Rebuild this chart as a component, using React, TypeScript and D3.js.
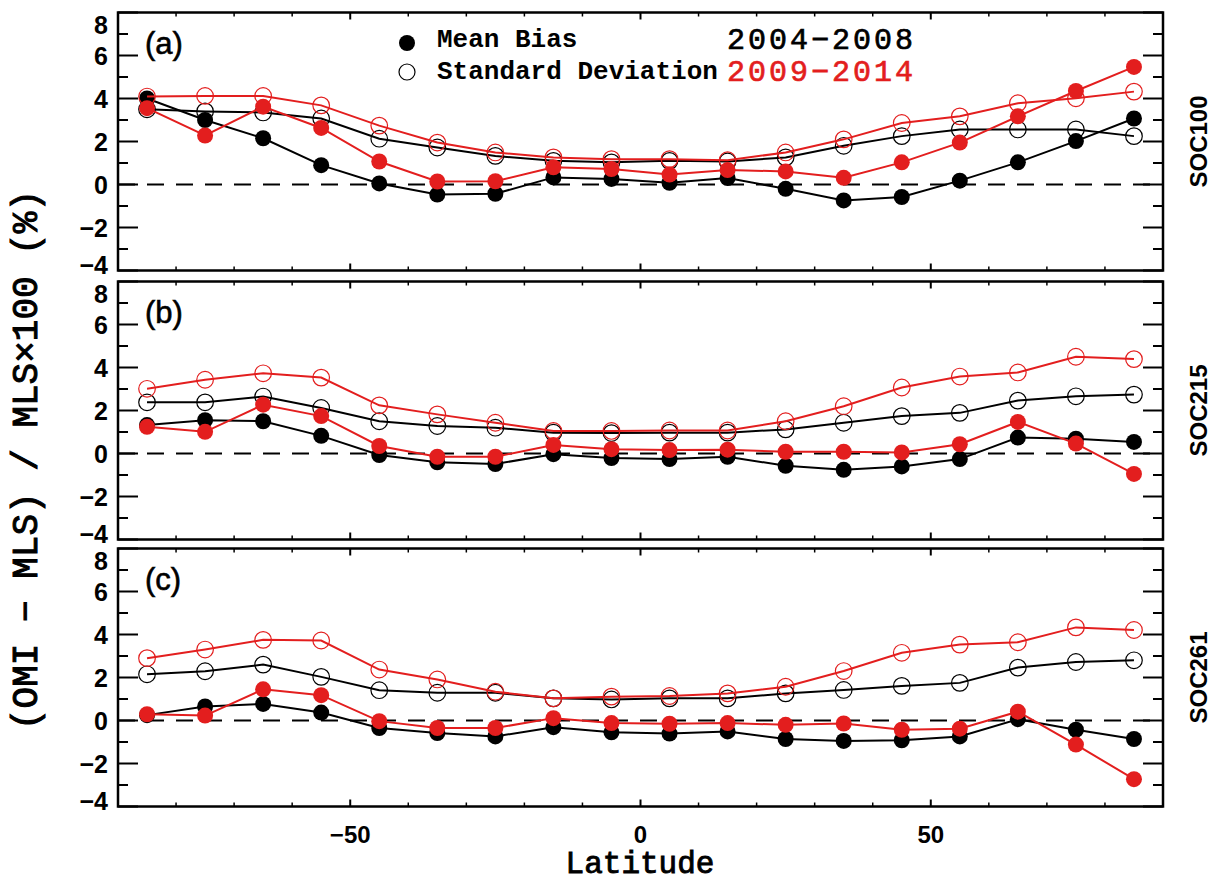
import React from "react";
import * as d3 from "d3";

const latitudes = [-85, -75, -65, -55, -45, -35, -25, -15, -5, 5, 15, 25, 35, 45, 55, 65, 75, 85];

// Panel (a) SOC100
const aMean0408 = [4.0, 3.0, 2.15, 0.9, 0.05, -0.47, -0.43, 0.33, 0.26, 0.08, 0.3, -0.2, -0.74, -0.58, 0.18, 1.03, 2.02, 3.07];
const aSd0408 = [3.5, 3.4, 3.35, 3.07, 2.13, 1.72, 1.33, 1.1, 1.03, 1.1, 1.07, 1.26, 1.8, 2.25, 2.56, 2.56, 2.56, 2.25];
const aMean0914 = [3.55, 2.28, 3.62, 2.63, 1.07, 0.14, 0.15, 0.8, 0.72, 0.46, 0.67, 0.61, 0.31, 1.03, 1.95, 3.17, 4.35, 5.47];
const aSd0914 = [4.09, 4.12, 4.12, 3.68, 2.74, 1.95, 1.49, 1.26, 1.18, 1.18, 1.13, 1.49, 2.1, 2.86, 3.17, 3.78, 4.01, 4.32];

// Panel (b) SOC215
const bMean0408 = [1.32, 1.55, 1.5, 0.82, -0.07, -0.41, -0.49, -0.03, -0.21, -0.26, -0.15, -0.57, -0.76, -0.6, -0.26, 0.74, 0.69, 0.54];
const bSd0408 = [2.38, 2.38, 2.65, 2.12, 1.5, 1.28, 1.2, 0.97, 0.95, 0.97, 0.97, 1.12, 1.43, 1.74, 1.89, 2.46, 2.66, 2.74];
const bMean0914 = [1.24, 1.01, 2.27, 1.74, 0.35, -0.15, -0.15, 0.4, 0.2, 0.16, 0.18, 0.08, 0.08, 0.05, 0.43, 1.47, 0.46, -0.95];
const bSd0914 = [3.01, 3.43, 3.73, 3.53, 2.24, 1.82, 1.43, 1.05, 1.05, 1.07, 1.07, 1.5, 2.2, 3.07, 3.58, 3.77, 4.5, 4.39];

// Panel (c) SOC261
const cMean0408 = [0.25, 0.65, 0.77, 0.37, -0.35, -0.58, -0.74, -0.31, -0.55, -0.61, -0.51, -0.86, -0.95, -0.92, -0.74, 0.06, -0.43, -0.86];
const cSd0408 = [2.15, 2.29, 2.6, 2.03, 1.41, 1.29, 1.29, 1.03, 0.98, 1.03, 1.03, 1.26, 1.42, 1.61, 1.75, 2.46, 2.72, 2.8];
const cMean0914 = [0.29, 0.23, 1.45, 1.18, -0.03, -0.35, -0.35, 0.11, -0.12, -0.15, -0.12, -0.2, -0.14, -0.43, -0.38, 0.41, -1.12, -2.73];
const cSd0914 = [2.9, 3.3, 3.75, 3.72, 2.37, 1.91, 1.34, 1.03, 1.11, 1.14, 1.26, 1.57, 2.3, 3.15, 3.53, 3.64, 4.33, 4.21];

const panelLabels = ["(a)", "(b)", "(c)"];
const panelNames = ["SOC100", "SOC215", "SOC261"];
const yMajorTicks = [-4, -2, 0, 2, 4, 6, 8];
const yMinorTicks = [-3, -1, 1, 3, 5, 7];
const xMajorTicks = [-50, 0, 50];
const xMinorTicks = [-80, -70, -60, -40, -30, -20, -10, 10, 20, 30, 40, 60, 70, 80];
const periods = ["2004\u22122008", "2009\u22122014"];
const legendItems = ["Mean Bias", "Standard Deviation"];

const panels = [
  { mean0408: aMean0408, sd0408: aSd0408, mean0914: aMean0914, sd0914: aSd0914 },
  { mean0408: bMean0408, sd0408: bSd0408, mean0914: bMean0914, sd0914: bSd0914 },
  { mean0408: cMean0408, sd0408: cSd0408, mean0914: cMean0914, sd0914: cSd0914 },
];

const W = 1221;
const H = 882;
const left = 118;
const right = 1163;
const panelTops = [12.5, 281.5, 548.5];
const panelH = 258;
const RED = "#e31e1e";
const MONO = "'Liberation Mono', 'DejaVu Sans Mono', monospace";
const SANS = "'Liberation Sans', Arial, sans-serif";

const x = d3.scaleLinear().domain([-90, 90]).range([left, right]);

function Panel({ idx }: { idx: number }) {
  const top = panelTops[idx];
  const bottom = top + panelH;
  const y = d3.scaleLinear().domain([-4, 8]).range([bottom, top]);
  const p = panels[idx];
  const line = (vals: number[]) =>
    d3.line<number>().x((_, i) => x(latitudes[i])).y((v) => y(v))(vals) || "";

  const series = [
    { vals: p.sd0408, color: "#000", filled: false },
    { vals: p.mean0408, color: "#000", filled: true },
    { vals: p.sd0914, color: RED, filled: false },
    { vals: p.mean0914, color: RED, filled: true },
  ];

  return (
    <g>
      <line x1={left} x2={right} y1={y(0)} y2={y(0)} stroke="#000" strokeWidth={2} strokeDasharray="17 12" />
      {series.map((s, si) => (
        <g key={si}>
          <path d={line(s.vals)} fill="none" stroke={s.color} strokeWidth={2} />
          {s.vals.map((v, i) =>
            s.filled ? (
              <circle key={i} cx={x(latitudes[i])} cy={y(v)} r={8} fill={s.color} />
            ) : (
              <circle key={i} cx={x(latitudes[i])} cy={y(v)} r={8.3} fill="none" stroke={s.color} strokeWidth={1.2} />
            )
          )}
        </g>
      ))}
      <rect x={left} y={top} width={right - left} height={panelH} fill="none" stroke="#000" strokeWidth={2.5} />
      {yMajorTicks.map((t) => (
        <g key={"ym" + t}>
          <line x1={left} x2={left + 20} y1={y(t)} y2={y(t)} stroke="#000" strokeWidth={2} />
          <line x1={right} x2={right - 20} y1={y(t)} y2={y(t)} stroke="#000" strokeWidth={2} />
          <text
            x={108}
            y={Math.max(top + 12, Math.min(bottom - 6, y(t)))}
            dy="0.36em"
            textAnchor="end"
            fontFamily={SANS}
            fontWeight="bold"
            fontSize={25}
          >
            {t < 0 ? "\u2212" + Math.abs(t) : String(t)}
          </text>
        </g>
      ))}
      {yMinorTicks.map((t) => (
        <g key={"yn" + t}>
          <line x1={left} x2={left + 10} y1={y(t)} y2={y(t)} stroke="#000" strokeWidth={2} />
          <line x1={right} x2={right - 10} y1={y(t)} y2={y(t)} stroke="#000" strokeWidth={2} />
        </g>
      ))}
      {xMajorTicks.map((t) => (
        <g key={"xm" + t}>
          <line x1={x(t)} x2={x(t)} y1={top} y2={top + 7} stroke="#000" strokeWidth={2} />
          <line x1={x(t)} x2={x(t)} y1={bottom} y2={bottom - 7} stroke="#000" strokeWidth={2} />
        </g>
      ))}
      {xMinorTicks.map((t) => (
        <g key={"xn" + t}>
          <line x1={x(t)} x2={x(t)} y1={top} y2={top + 4} stroke="#000" strokeWidth={1.5} />
          <line x1={x(t)} x2={x(t)} y1={bottom} y2={bottom - 4} stroke="#000" strokeWidth={1.5} />
        </g>
      ))}
      {idx === 2 &&
        xMajorTicks.map((t) => (
          <text key={"xl" + t} x={x(t)} y={843} textAnchor="middle" fontFamily={SANS} fontWeight="bold" fontSize={24}>
            {t < 0 ? "\u2212" + Math.abs(t) : String(t)}
          </text>
        ))}
      <text x={145} y={top + 41} fontFamily={SANS} fontSize={31} stroke="#000" strokeWidth={0.6}>
        {panelLabels[idx]}
      </text>
      <text
        transform={`translate(1207, ${(top + bottom) / 2}) rotate(-90)`}
        textAnchor="middle"
        fontFamily={SANS}
        fontWeight="bold"
        fontSize={24}
      >
        {panelNames[idx]}
      </text>
    </g>
  );
}

export default function App() {
  return (
    <svg
      width={W}
      height={H}
      viewBox={`0 0 ${W} ${H}`}
      style={{ position: "absolute", left: 0, top: 0, background: "#fff" }}
    >
      <rect x={0} y={0} width={W} height={H} fill="#fff" />
      {[0, 1, 2].map((i) => (
        <Panel key={i} idx={i} />
      ))}
      {/* legend */}
      <circle cx={407} cy={43} r={8} fill="#000" />
      <circle cx={407} cy={72} r={8} fill="none" stroke="#000" strokeWidth={1.2} />
      <text x={437} y={47} fontFamily={MONO} fontWeight="bold" fontSize={26}>
        {legendItems[0]}
      </text>
      <text x={437} y={79} fontFamily={MONO} fontWeight="bold" fontSize={26}>
        {legendItems[1]}
      </text>
      <text x={727} y={49} fontFamily={MONO} fontSize={30} letterSpacing={3} fill="#000" stroke="#000" strokeWidth={0.7}>
        {periods[0]}
      </text>
      <text x={727} y={81} fontFamily={MONO} fontSize={30} letterSpacing={3} fill={RED} stroke={RED} strokeWidth={0.7}>
        {periods[1]}
      </text>
      {/* axis titles */}
      <text x={640} y={873} textAnchor="middle" fontFamily={MONO} fontSize={31} stroke="#000" strokeWidth={0.9}>
        Latitude
      </text>
      <text
        transform={`translate(37, 460) rotate(-90)`}
        textAnchor="middle"
        fontFamily={MONO}
        fontSize={36}
        stroke="#000"
        strokeWidth={1}
      >
        (OMI {"\u2212"} MLS) / MLS{"\u00d7"}100 (%)
      </text>
    </svg>
  );
}
